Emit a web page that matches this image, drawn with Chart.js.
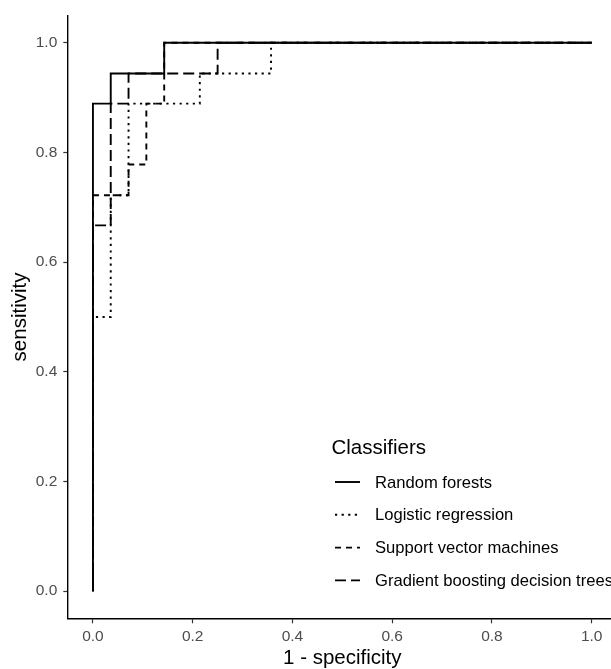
<!DOCTYPE html>
<html>
<head>
<meta charset="utf-8">
<title>ROC curves</title>
<script src="https://cdn.jsdelivr.net/npm/chart.js@4.4.1/dist/chart.umd.min.js"></script>
<style>
    html, body { margin: 0; padding: 0; background: #fff; }
    body { width: 611px; height: 669px; overflow: hidden; position: relative; }
    #roc { position: absolute; left: 0; top: 0; }
</style>
</head>
<body>
<canvas id="roc" width="640" height="669"></canvas>
<script>
    "use strict";

    // ROC corner points (1 - specificity, sensitivity)
    const rfFpr = [0, 0, 0.0357, 0.0357, 0.1429, 0.1429, 1];
    const rfTpr = [0, 0.889, 0.889, 0.944, 0.944, 1, 1];

    const lrFpr = [0, 0, 0.0357, 0.0357, 0.0714, 0.0714, 0.2143, 0.2143, 0.3571, 0.3571, 1];
    const lrTpr = [0, 0.5, 0.5, 0.722, 0.722, 0.889, 0.889, 0.944, 0.944, 1, 1];

    const svmFpr = [0, 0, 0.0714, 0.0714, 0.1071, 0.1071, 0.1429, 0.1429, 1];
    const svmTpr = [0, 0.722, 0.722, 0.778, 0.778, 0.889, 0.889, 1, 1];

    const gbFpr = [0, 0, 0.0357, 0.0357, 0.0714, 0.0714, 0.25, 0.25, 1];
    const gbTpr = [0, 0.667, 0.667, 0.889, 0.889, 0.944, 0.944, 1, 1];

    const classifiers = ["Random forests", "Logistic regression", "Support vector machines", "Gradient boosting decision trees"];
    const dashes = [[], [2.2, 4.4], [6, 5], [11, 5]];

    const xTicks = [0, 0.2, 0.4, 0.6, 0.8, 1.0];
    const yTicks = [0, 0.2, 0.4, 0.6, 0.8, 1.0];

    const FONT = "'Liberation Sans', Arial, Helvetica, sans-serif";

    function zip(xs, ys) {
        return xs.map((x, i) => ({ x: x, y: ys[i] }));
    }

    const series = [zip(rfFpr, rfTpr), zip(lrFpr, lrTpr), zip(svmFpr, svmTpr), zip(gbFpr, gbTpr)];

    // legend drawn like ggplot's, inside the panel
    const ggLegend = {
        id: "ggLegend",
        afterDraw(chart) {
            const ctx = chart.ctx;
            ctx.save();
            ctx.fillStyle = "#000";
            ctx.textBaseline = "middle";
            ctx.font = "20.5px " + FONT;
            ctx.fillText("Classifiers", 331.5, 448);
            ctx.font = "16.6px " + FONT;
            for (let i = 0; i < classifiers.length; i++) {
                const y = 482 + i * 32.8;
                ctx.strokeStyle = "#000";
                ctx.lineWidth = 1.9;
                ctx.setLineDash(dashes[i]);
                ctx.beginPath();
                ctx.moveTo(335, y);
                ctx.lineTo(360, y);
                ctx.stroke();
                ctx.setLineDash([]);
                ctx.fillText(classifiers[i], 375, y + 1);
            }
            ctx.restore();
        }
    };

    const axisCommon = {
        type: "linear",
        min: -0.05,
        max: 1.05,
        grid: {
            display: true,
            drawOnChartArea: false,
            drawTicks: true,
            tickLength: 4.7,
            tickColor: "#333333",
            tickWidth: 1.2
        },
        border: { display: true, color: "#000", width: 1.4 },
        ticks: {
            color: "#4D4D4D",
            font: { family: FONT, size: 15.5 },
            callback: v => v.toFixed(1)
        }
    };

    new Chart(document.getElementById("roc"), {
        type: "line",
        data: {
            datasets: series.map((pts, i) => ({
                label: classifiers[i],
                data: pts,
                borderColor: "#000",
                borderWidth: 1.9,
                borderDash: dashes[i],
                pointRadius: 0,
                fill: false,
                tension: 0
            }))
        },
        options: {
            responsive: false,
            animation: false,
            events: [],
            layout: { padding: { left: 0, top: 11.4, right: 23.4, bottom: 0 } },
            plugins: {
                legend: { display: false },
                tooltip: { enabled: false }
            },
            scales: {
                x: Object.assign({}, axisCommon, {
                    position: "bottom",
                    ticks: Object.assign({}, axisCommon.ticks, { padding: 4, maxRotation: 0 }),
                    afterBuildTicks: s => { s.ticks = xTicks.map(v => ({ value: v })); },
                    afterFit: s => { s.height = 50.4; },
                    title: {
                        display: true,
                        text: "1 - specificity",
                        color: "#000",
                        font: { family: FONT, size: 20.5 },
                        padding: { top: 0, bottom: -2 }
                    }
                }),
                y: Object.assign({}, axisCommon, {
                    position: "left",
                    ticks: Object.assign({}, axisCommon.ticks, { padding: 6 }),
                    afterBuildTicks: s => { s.ticks = yTicks.map(v => ({ value: v })); },
                    afterFit: s => { s.width = 68; },
                    title: {
                        display: true,
                        text: "sensitivity",
                        color: "#000",
                        font: { family: FONT, size: 20.5 },
                        padding: { top: 8, bottom: 0 }
                    }
                })
            }
        },
        plugins: [ggLegend]
    });
</script>
</body>
</html>
